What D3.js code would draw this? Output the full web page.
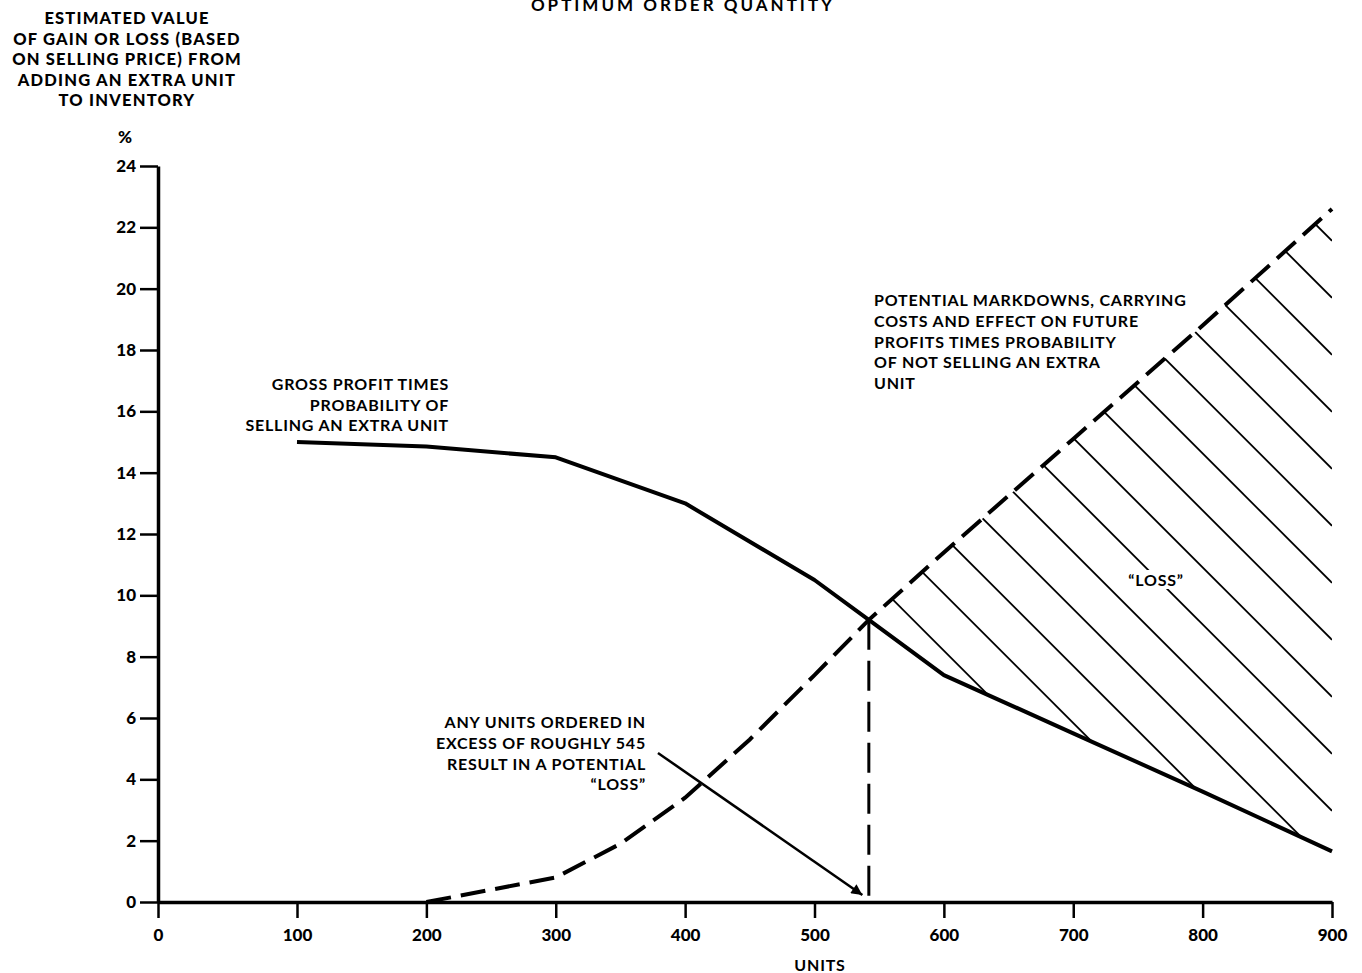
<!DOCTYPE html>
<html>
<head>
<meta charset="utf-8">
<script src="https://cdn.jsdelivr.net/npm/d3@7"></script>
<style>
  body { margin: 0; background: #fff; }
  text { fill: #000; }
</style>
</head>
<body>
<script>
// units on the x axis, % on the y axis
const UNIT_TICKS = [0, 100, 200, 300, 400, 500, 600, 700, 800, 900];
const PCT_TICKS = [0, 2, 4, 6, 8, 10, 12, 14, 16, 18, 20, 22, 24];

// gross profit times probability of selling an extra unit (solid)
const GAIN_UNITS = [100, 200, 300, 400, 500, 542, 600, 700, 800, 900];
const GAIN_PCT = [15.0, 14.85, 14.5, 13.0, 10.5, 9.2, 7.4, 5.5, 3.6, 1.65];

// markdowns, carrying costs ... times probability of not selling (dashed)
const LOSS_UNITS = [200, 250, 300, 350, 400, 450, 500, 542, 600, 700, 800, 900];
const LOSS_PCT = [0, 0.4, 0.8, 1.9, 3.4, 5.3, 7.4, 9.2, 11.4, 15.1, 18.8, 22.6];

const CROSS_UNITS = 542;
const CROSS_PCT = 9.2;

const WIDTH = 1362;
const HEIGHT = 973;
const FONT = 'Lato, "DejaVu Sans", sans-serif';

const svg = d3.select('body').append('svg')
.attr('width', WIDTH)
.attr('height', HEIGHT)
;

//scales (the hand drawn axis has a wider first step)
const xScale = d3.scaleLinear().domain([0, 100, 900]).range([158, 297, 1332]);
const yScale = d3.scaleLinear().domain([0, 24]).range([902, 166]);

const gain = GAIN_UNITS.map((u, i) => [u, GAIN_PCT[i]]);
const loss = LOSS_UNITS.map((u, i) => [u, LOSS_PCT[i]]);

const line = d3.line()
.x(d => xScale(d[0]))
.y(d => yScale(d[1]))
;

//hatched "loss" region between the two curves
const lossAt = d3.scaleLinear().domain(LOSS_UNITS).range(LOSS_PCT);
const region = loss.filter(d => d[0] >= CROSS_UNITS)
.concat(gain.filter(d => d[0] >= CROSS_UNITS).reverse());

svg.append('clipPath')
.attr('id', 'loss-area')
.append('path')
.attr('d', line(region) + 'Z')
;

const HATCH_GAP = 57;
const c0 = yScale(lossAt(560)) - xScale(560);
const hx1 = xScale(CROSS_UNITS);
const hx2 = xScale(900);

svg.append('g')
.attr('clip-path', 'url(#loss-area)')
.selectAll('line')
.data(d3.range(16))
.enter()
.append('line')
.attr('x1', hx1)
.attr('y1', k => hx1 + c0 - k * HATCH_GAP)
.attr('x2', hx2)
.attr('y2', k => hx2 + c0 - k * HATCH_GAP)
.attr('stroke', '#000')
.attr('stroke-width', 1.8)
;

//x axis
const xAxis = svg.append('g')
.attr('transform', `translate(0, ${yScale(0)})`)
.call(d3.axisBottom(xScale).tickValues(UNIT_TICKS).tickSize(16).tickSizeOuter(0).tickPadding(11));

//y axis
const yAxis = svg.append('g')
.attr('transform', `translate(${xScale(0)}, 0)`)
.call(d3.axisLeft(yScale).tickValues(PCT_TICKS).tickSize(18).tickSizeOuter(0).tickPadding(4));

[xAxis, yAxis].forEach(ax => {
  ax.attr('font-family', FONT).attr('font-size', 17).attr('font-weight', 900);
  ax.select('.domain').attr('stroke-width', 3.5);
  ax.selectAll('.tick line').attr('stroke-width', 2.5);
  ax.selectAll('.tick text').attr('fill', '#000');
});

//curves
svg.append('path')
.attr('d', line(gain))
.attr('fill', 'none')
.attr('stroke', '#000')
.attr('stroke-width', 4)
.attr('stroke-linejoin', 'round')
;

svg.append('path')
.attr('d', line(loss))
.attr('fill', 'none')
.attr('stroke', '#000')
.attr('stroke-width', 4)
.attr('stroke-dasharray', '25,10')
;

//vertical dashed drop at the crossover
svg.append('line')
.attr('x1', xScale(CROSS_UNITS))
.attr('x2', xScale(CROSS_UNITS))
.attr('y1', yScale(CROSS_PCT))
.attr('y2', yScale(0))
.attr('stroke', '#000')
.attr('stroke-width', 3)
.attr('stroke-dasharray', '30,11')
;

//arrow
svg.append('marker')
.attr('id', 'head')
.attr('viewBox', '0 0 10 10')
.attr('refX', 10)
.attr('refY', 5)
.attr('markerWidth', 20)
.attr('markerHeight', 11)
.attr('markerUnits', 'userSpaceOnUse')
.attr('orient', 'auto')
.append('path')
.attr('d', 'M0,0 L10,5 L0,10 Z')
.attr('fill', '#000')
;

svg.append('line')
.attr('x1', xScale(379))
.attr('y1', yScale(4.86))
.attr('x2', xScale(537))
.attr('y2', yScale(0.23))
.attr('stroke', '#000')
.attr('stroke-width', 2.5)
.attr('marker-end', 'url(#head)')
;

//text blocks
function block(lines, x, y0, step, anchor, size, weight, spacing) {
  const t = svg.append('text')
  .attr('font-family', FONT)
  .attr('font-size', size)
  .attr('font-weight', weight)
  .attr('letter-spacing', spacing)
  .attr('text-anchor', anchor)
  ;
  lines.forEach((s, i) => {
    t.append('tspan').attr('x', x).attr('y', y0 + i * step).text(s);
  });
  return t;
}

//title, cut off by the page edge as in the scan
block(['OPTIMUM  ORDER  QUANTITY'], 683, 11, 0, 'middle', 17, 700, 3);

//y axis title
block(['ESTIMATED VALUE', 'OF GAIN OR LOSS (BASED', 'ON SELLING PRICE) FROM',
  'ADDING AN EXTRA UNIT', 'TO INVENTORY'], 127, 24, 20.5, 'middle', 16.5, 900, 1.2);
block(['%'], 125, 143, 0, 'middle', 17, 900, 0);

//x axis title
block(['UNITS'], 820, 971, 0, 'middle', 16, 700, 0.8);

block(['GROSS PROFIT TIMES', 'PROBABILITY OF', 'SELLING AN EXTRA UNIT'],
  449, 390, 20.5, 'end', 16, 700, 0.8);

block(['POTENTIAL MARKDOWNS, CARRYING', 'COSTS AND EFFECT ON FUTURE',
  'PROFITS TIMES PROBABILITY', 'OF NOT SELLING AN EXTRA', 'UNIT'],
  874, 306, 20.8, 'start', 16, 700, 0.8);

block(['ANY UNITS ORDERED IN', 'EXCESS OF ROUGHLY 545', 'RESULT IN A POTENTIAL', '\u201CLOSS\u201D'],
  646, 728, 20.8, 'end', 16, 700, 0.8);

//label sits on a white patch inside the hatching
const lossLabel = block(['\u201CLOSS\u201D'], 1156, 586, 0, 'middle', 16, 700, 0.8);
const bb = lossLabel.node().getBBox();
svg.insert('rect', () => lossLabel.node())
.attr('x', bb.x - 3)
.attr('y', bb.y)
.attr('width', bb.width + 6)
.attr('height', bb.height)
.attr('fill', '#fff')
;
</script>
</body>
</html>
